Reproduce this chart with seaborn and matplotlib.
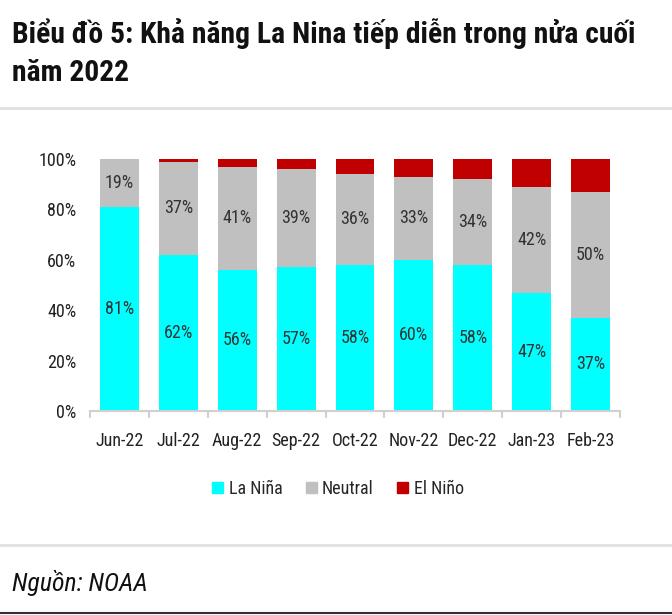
import matplotlib
matplotlib.use("Agg")
import matplotlib.pyplot as plt
import seaborn as sns
import pandas as pd
import numpy as np
from matplotlib.patches import Patch
from matplotlib.lines import Line2D

months = ["Jun-22", "Jul-22", "Aug-22", "Sep-22", "Oct-22", "Nov-22", "Dec-22", "Jan-23", "Feb-23"]
la_nina = [81, 62, 56, 57, 58, 60, 58, 47, 37]
neutral = [19, 37, 41, 39, 36, 33, 34, 42, 50]
el_nino = [0, 1, 3, 4, 6, 7, 8, 11, 13]
yticks = [0, 20, 40, 60, 80, 100]

sns.set_theme(style="white")
FAM = ["Roboto Condensed", "Archivo Narrow", "DejaVu Sans"]
plt.rcParams["font.family"] = FAM

C_LA, C_NE, C_EL = "#00FFFF", "#C0C0C0", "#C00000"

df = pd.DataFrame({"month": months, "la": la_nina, "ne": neutral, "el": el_nino})
df["la_ne"] = df["la"] + df["ne"]
df["tot"] = df["la_ne"] + df["el"]

fig = plt.figure(figsize=(6.72, 6.15), dpi=100)
ax = fig.add_axes([90/672, 1-411/615, 530/672, 252/615])

w = 0.66
sns.barplot(data=df, x="month", y="tot", color=C_EL, width=w, ax=ax, saturation=1, linewidth=0)
sns.barplot(data=df, x="month", y="la_ne", color=C_NE, width=w, ax=ax, saturation=1, linewidth=0)
sns.barplot(data=df, x="month", y="la", color=C_LA, width=w, ax=ax, saturation=1, linewidth=0)

for i, r in df.iterrows():
    ax.text(i, r["la"]/2, f"{r['la']}%", ha="center", va="center", fontsize=13, color="#333333")
    ax.text(i, r["la"] + r["ne"]/2, f"{r['ne']}%", ha="center", va="center", fontsize=13, color="#333333")

ax.set_xlim(-0.5, len(months)-0.5)
ax.set_ylim(0, 100)
ax.set_yticks(yticks)
ax.set_yticklabels([f"{v}%" for v in yticks], fontsize=13, color="#222222")
ax.set_xlabel("")
ax.set_ylabel("")
ax.tick_params(axis="x", length=0, labelsize=13, colors="#222222", pad=15)
ax.tick_params(axis="y", length=0, pad=10)
for s in ["top", "right", "left"]:
    ax.spines[s].set_visible(False)
ax.spines["bottom"].set_color("#D0D0D0")
ax.spines["bottom"].set_linewidth(1.5)
for b in np.arange(-0.5, len(months), 1.0):
    ax.plot([b, b], [0, -2.2], color="#D0D0D0", lw=1.5, clip_on=False)

handles = [Patch(color=C_LA, label="La Niña"), Patch(color=C_NE, label="Neutral"), Patch(color=C_EL, label="El Niño")]
fig.legend(handles=handles, loc="center", bbox_to_anchor=(338/672, 1-489/615), ncol=3, frameon=False,
           fontsize=13, handlelength=0.6, handleheight=0.6, handletextpad=0.3, columnspacing=1.3)

fig.text(12/672, 1-33/615, "Biểu đồ 5: Khả năng La Nina tiếp diễn trong nửa cuối", fontsize=21.3, fontweight="bold",
         ha="left", va="center", color="#111111")
fig.text(12/672, 1-73/615, "năm 2022", fontsize=21.3, fontweight="bold", ha="left", va="center", color="#111111")
fig.text(12/672, 1-583/615, "Nguồn: NOAA", fontsize=18.5, style="italic", ha="left", va="center", color="#111111")

fig.add_artist(Line2D([0, 1], [1-108/615, 1-108/615], color="#E0E0E0", lw=2))
fig.add_artist(Line2D([0, 1], [1-545/615, 1-545/615], color="#E0E0E0", lw=2))
fig.add_artist(Line2D([0, 1], [1-613/615, 1-613/615], color="#333333", lw=1.5))

fig.savefig("out.png", dpi=100)
